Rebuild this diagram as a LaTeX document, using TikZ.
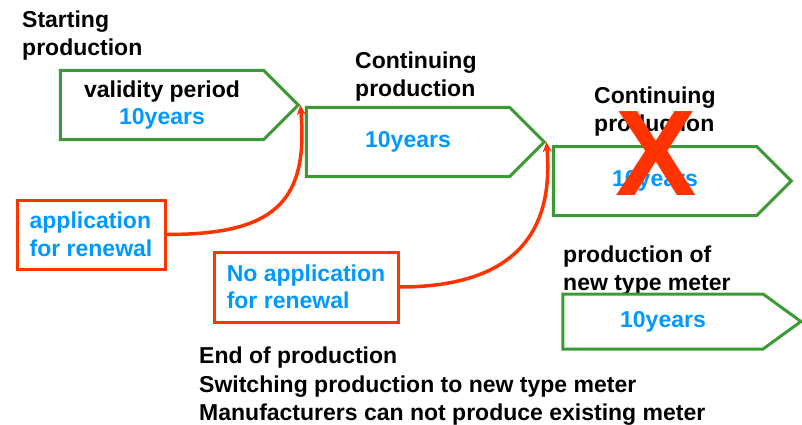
\documentclass[tikz,border=0pt]{standalone}
\usepackage{fontspec}
\setmainfont{Liberation Sans}
\usetikzlibrary{shapes.symbols, arrows.meta}

\definecolor{boxgreen}{RGB}{58,155,53}
\definecolor{textblue}{RGB}{0,153,255}
\definecolor{markred}{RGB}{255,51,0}

\begin{document}
\begin{tikzpicture}[x=1pt, y=1pt,
	every node/.style={font=\bfseries\fontsize{23}{27.5}\selectfont, inner sep=0pt},
	period/.style={shape=signal, signal to=east, signal pointer angle=90, draw=boxgreen, line width=3pt, minimum width=238pt, minimum height=69pt, text=textblue, align=center},
	renewal/.style={draw=markred, line width=3pt, text=textblue, align=left},
	heading/.style={align=left, anchor=north west},
	renew/.style={markred, line width=3.5pt, -{Stealth[length=10pt, width=9pt]}}]
		
		\useasboundingbox (0,0) rectangle (802,-425);
		
		\node[heading] (start) at (22,-11) {Starting\\production};
		\node[period] (valid) at (162,-105) {\textcolor{black}{validity period}\\10years};
		
		\node[heading] (cont) at (355,-52) {Continuing\\production};
		\node[period] (contperiod) at (408,-142) {10years};
		
		\node[heading] (stop) at (594,-87) {Continuing\\production};
		\node[period] (stopperiod) at (655,-181) {10years};
		\node[text=markred, font=\bfseries\fontsize{122}{122}\selectfont] (cross) at (656,-154) {X};
		
		\node[heading] (new) at (563,-246) {production of\\new type meter};
		\node[period, signal pointer angle=72, minimum height=55pt] (newperiod) at (663,-321.5) {10years};
		
		\node[renewal, minimum width=148pt, minimum height=69pt] (apply) at (91,-234.5) {application\\for renewal};
		\node[renewal, minimum width=184pt, minimum height=70pt] (noapply) at (306,-287) {No application\\for renewal};
		
		\node[heading, font=\bfseries\fontsize{23}{28.5}\selectfont] (end) at (199,-347) {End of production\\Switching production to new type meter\\Manufacturers can not produce existing meter};
		
		\draw[renew] (apply.east) to[out=0, in=-85, out distance=105pt, in distance=100pt] (valid.east);
		\draw[renew] (noapply.east) to[out=0, in=-85, out distance=105pt, in distance=100pt] (contperiod.east);
		
\end{tikzpicture}
\end{document}
